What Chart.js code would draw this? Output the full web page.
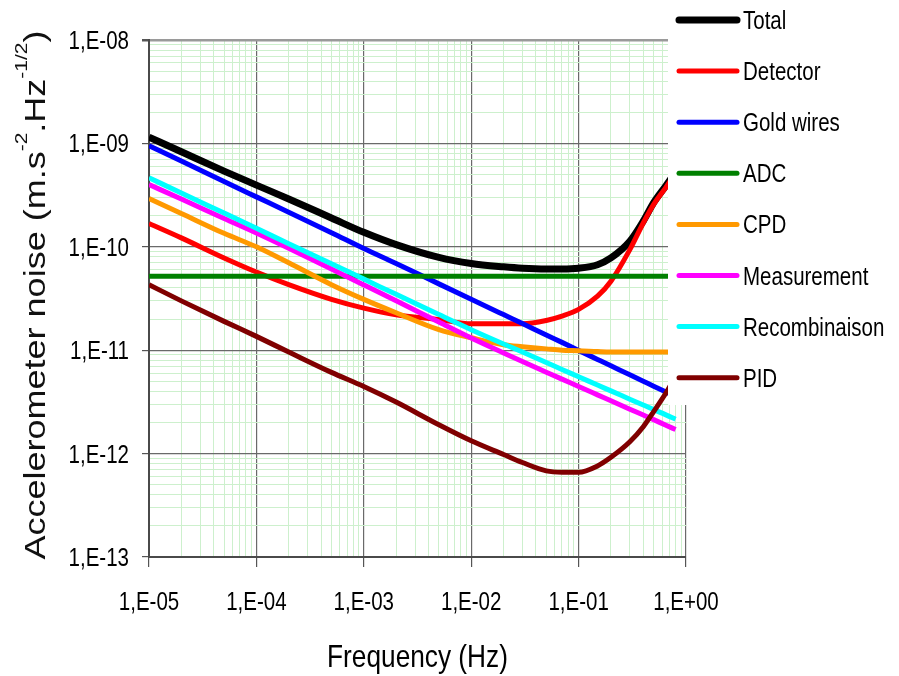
<!DOCTYPE html>
<html lang="en">
<head>
<meta charset="UTF-8" />
<title>Accelerometer noise budget</title>
<script src="https://cdn.jsdelivr.net/npm/chart.js"></script>
<style>
    body { margin: 0; background: #fff; }
    #wrap { width: 899px; height: 676px; }
</style>
</head>
<body>
<div id="wrap"><canvas id="noiseChart" width="899" height="676"></canvas></div>
<script>
const freqs = [1e-5, 2e-5, 5e-5, 1e-4, 2e-4, 5e-4, 1e-3, 2e-3, 5e-3, 1e-2, 2e-2, 3e-2, 5e-2, 7e-2, 0.1, 0.15, 0.2, 0.3, 0.4, 0.5, 0.65, 0.8]

// noise in m.s^-2.Hz^-1/2
const total = [1.15e-9, 8.3e-10, 5.4e-10, 3.95e-10, 2.9e-10, 1.9e-10, 1.38e-10, 1.05e-10, 7.9e-11, 6.9e-11, 6.4e-11, 6.2e-11, 6.1e-11, 6.1e-11, 6.2e-11, 6.7e-11, 7.8e-11, 1.13e-10, 1.77e-10, 2.67e-10, 3.9e-10, 5.3e-10]
const detector = [1.68e-10, 1.22e-10, 7.8e-11, 5.7e-11, 4.3e-11, 3.1e-11, 2.55e-11, 2.2e-11, 1.98e-11, 1.8e-11, 1.8e-11, 1.8e-11, 1.94e-11, 2.14e-11, 2.48e-11, 3.33e-11, 4.65e-11, 9.4e-11, 1.7e-10, 2.57e-10, 3.75e-10, 5.2e-10]
const goldWires = [9.5e-10, 6.74e-10, 4.28e-10, 3.04e-10, 2.16e-10, 1.37e-10, 9.62e-11, 6.9e-11, 4.38e-11, 3.11e-11, 2.21e-11, 1.81e-11, 1.4e-11, 1.19e-11, 9.95e-12, 8.14e-12, 7.06e-12, 5.78e-12, 5.01e-12, 4.48e-12, 3.94e-12, 3.56e-12]
const adc = [5.2e-11, 5.2e-11, 5.2e-11, 5.2e-11, 5.2e-11, 5.2e-11, 5.2e-11, 5.2e-11, 5.2e-11, 5.2e-11, 5.2e-11, 5.2e-11, 5.2e-11, 5.2e-11, 5.2e-11, 5.2e-11, 5.2e-11, 5.2e-11, 5.2e-11, 5.2e-11, 5.2e-11, 5.2e-11]
const cpd = [2.93e-10, 2.1e-10, 1.35e-10, 1.0e-10, 7.0e-11, 4.3e-11, 3.1e-11, 2.3e-11, 1.58e-11, 1.32e-11, 1.13e-11, 1.08e-11, 1.03e-11, 1.0e-11, 9.9e-12, 9.7e-12, 9.6e-12, 9.6e-12, 9.6e-12, 9.6e-12, 9.6e-12, 9.6e-12]
const measurement = [4.0e-10, 2.9e-10, 1.88e-10, 1.36e-10, 9.68e-11, 6.1e-11, 4.28e-11, 3.0e-11, 1.87e-11, 1.31e-11, 9.4e-12, 7.76e-12, 6.13e-12, 5.25e-12, 4.46e-12, 3.7e-12, 3.24e-12, 2.69e-12, 2.36e-12, 2.13e-12, 1.88e-12, 1.71e-12]
const recombinaison = [4.65e-10, 3.31e-10, 2.12e-10, 1.51e-10, 1.07e-10, 6.85e-11, 4.87e-11, 3.47e-11, 2.21e-11, 1.58e-11, 1.15e-11, 9.6e-12, 7.6e-12, 6.5e-12, 5.54e-12, 4.6e-12, 4.04e-12, 3.36e-12, 2.95e-12, 2.66e-12, 2.37e-12, 2.15e-12]
const pid = [4.3e-11, 3.0e-11, 1.9e-11, 1.36e-11, 9.6e-12, 6.1e-12, 4.46e-12, 3.15e-12, 1.9e-12, 1.33e-12, 9.8e-13, 8.2e-13, 6.8e-13, 6.6e-13, 6.6e-13, 7.6e-13, 9.2e-13, 1.3e-12, 1.82e-12, 2.55e-12, 3.85e-12, 5.6e-12]

const seriesNames = ["Total", "Detector", "Gold wires", "ADC", "CPD", "Measurement", "Recombinaison", "PID"]
const seriesValues = [total, detector, goldWires, adc, cpd, measurement, recombinaison, pid]
const seriesColors = ["#000000", "#ff0000", "#0000ff", "#008000", "#ff9900", "#ff00ff", "#00ffff", "#800000"]
const seriesWidths = [7, 5, 5, 5, 5, 5, 5, 5]

const xExp = [-5, 0]
const yExp = [-13, -8]

const FONT = "'Liberation Sans', Arial, sans-serif"
const SQUASH = 0.82 // the source image is narrower than it is tall

// decade ticks plus 2..9 minor ticks (no 1.5 steps)
function decadeTicks(lo, hi) {
    const ticks = []
    for (let e = lo; e < hi; e++) {
        for (let m = 1; m < 10; m++) ticks.push({ value: Number(m + "e" + e), major: m === 1 })
    }
    ticks.push({ value: Number("1e" + hi), major: true })
    return ticks
}

// 1e-5 -> "1,E-05"
function excelLabel(v) {
    const e = Math.round(Math.log10(v))
    return "1,E" + (e < 0 ? "-" : "+") + String(Math.abs(e)).padStart(2, "0")
}

const isMajor = (c) => c.tick && c.tick.major

function axisOptions(lo, hi, tickLen) {
    return {
        type: "logarithmic",
        min: Number("1e" + lo),
        max: Number("1e" + hi),
        afterBuildTicks: (scale) => { scale.ticks = decadeTicks(lo, hi) },
        ticks: {
            autoSkip: false,
            maxRotation: 0,
            // labels are painted narrow by the plugin below
            callback: () => "",
        },
        grid: {
            color: (c) => (isMajor(c) ? (c.tick.value === 1e-8 ? "#9a9a9a" : "#6a6a6a") : "#cdf0cd"),
            lineWidth: (c) => (isMajor(c) ? (c.tick.value === 1e-8 ? 2.5 : 1.2) : 1),
            tickColor: (c) => (isMajor(c) ? "#555" : "rgba(0,0,0,0)"),
            tickLength: tickLen,
        },
        border: { display: true, color: "#4a4a4a", width: 2 },
    }
}

function narrowText(ctx, text, x, y, align, size) {
    ctx.save()
    ctx.translate(x, y)
    ctx.scale(SQUASH, 1)
    ctx.font = size + "px " + FONT
    ctx.textAlign = align
    ctx.textBaseline = "alphabetic"
    ctx.fillText(text, 0, 0)
    ctx.restore()
}

// tick labels, axis titles (y one has superscripts) and the legend panel
const extras = {
    id: "extras",
    afterDraw(chart) {
        const ctx = chart.ctx
        const area = chart.chartArea
        const xs = chart.scales.x
        const ys = chart.scales.y
        ctx.save()
        ctx.fillStyle = "#000"

        xs.ticks.filter((t) => t.major).forEach((t) => {
            narrowText(ctx, excelLabel(t.value), xs.getPixelForValue(t.value), 610, "center", 25)
        })
        ys.ticks.filter((t) => t.major).forEach((t) => {
            narrowText(ctx, excelLabel(t.value), 129, ys.getPixelForValue(t.value) + 9, "right", 25)
        })

        narrowText(ctx, "Frequency (Hz)", (area.left + area.right) / 2, 667, "center", 32)

        const parts = [
            { t: "Accelerometer noise (m.s", sup: false },
            { t: "-2", sup: true },
            { t: ".Hz", sup: false },
            { t: "-1/2", sup: true },
            { t: ")", sup: false },
        ]
        ctx.save()
        ctx.fillStyle = "#111"
        ctx.translate(45, 295)
        ctx.rotate(-Math.PI / 2)
        ctx.scale(1, SQUASH)
        ctx.textBaseline = "alphabetic"
        ctx.textAlign = "left"
        let w = 0
        parts.forEach((p) => {
            ctx.font = (p.sup ? 21 : 36) + "px " + FONT
            p.w = ctx.measureText(p.t).width
            w += p.w
        })
        let x = -w / 2
        parts.forEach((p) => {
            ctx.font = (p.sup ? 21 : 36) + "px " + FONT
            ctx.fillText(p.t, x, p.sup ? -22 : 0)
            x += p.w
        })
        ctx.restore()

        // legend sits on top of the plot's upper right corner
        ctx.fillStyle = "#fff"
        ctx.fillRect(668, 0, chart.width - 668, 405)
        chart.data.datasets.forEach((ds, i) => {
            const y = 20 + i * 51.1
            ctx.strokeStyle = ds.borderColor
            ctx.lineWidth = ds.borderWidth
            ctx.lineCap = "round"
            ctx.beginPath()
            ctx.moveTo(679, y)
            ctx.lineTo(737, y)
            ctx.stroke()
            ctx.fillStyle = "#000"
            narrowText(ctx, ds.label, 743, y + 9, "left", 25)
        })
        ctx.restore()
    },
}

const datasets = seriesNames.map((name, i) => ({
    label: name,
    data: freqs.map((f, j) => ({ x: f, y: seriesValues[i][j] })),
    borderColor: seriesColors[i],
    backgroundColor: seriesColors[i],
    borderWidth: seriesWidths[i],
    pointRadius: 0,
    fill: false,
    cubicInterpolationMode: "monotone",
    order: seriesNames.length - i,
}))

const xAxis = axisOptions(xExp[0], xExp[1], 10)
xAxis.afterFit = (scale) => { scale.height = 119 }
const yAxis = axisOptions(yExp[0], yExp[1], 7)
yAxis.afterFit = (scale) => { scale.width = 149 }

new Chart(document.getElementById("noiseChart"), {
    type: "line",
    data: { datasets: datasets },
    options: {
        responsive: false,
        animation: false,
        layout: { padding: { left: 0, right: 213, top: 40, bottom: 0 } },
        scales: { x: xAxis, y: yAxis },
        plugins: { legend: { display: false }, tooltip: { enabled: false } },
    },
    plugins: [extras],
})
</script>
</body>
</html>
